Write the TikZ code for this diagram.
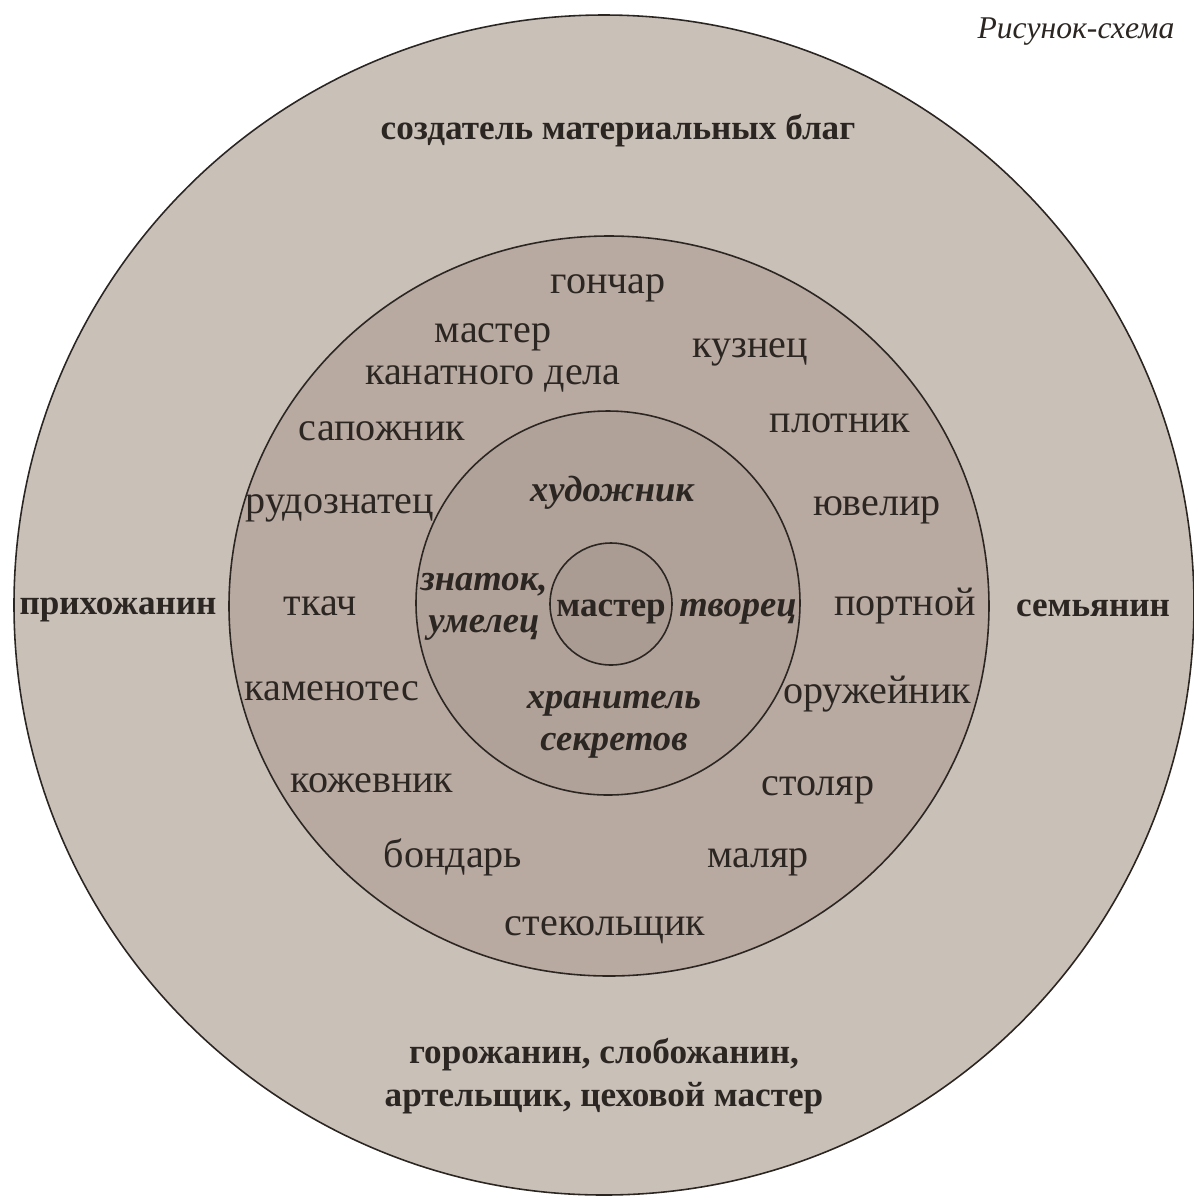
\documentclass[tikz,border=0pt]{standalone}
\usepackage{fontspec}
\setmainfont{Liberation Serif}
\definecolor{ringout}{HTML}{C9C0B8}
\definecolor{ringmid}{HTML}{B8A9A1}
\definecolor{ringin}{HTML}{B1A299}
\definecolor{ringcore}{HTML}{AA9B93}
\definecolor{inkgray}{HTML}{2B2622}
\begin{document}
\begin{tikzpicture}[x=0.01cm,y=-0.01cm,
    every node/.style={text=inkgray,inner sep=0pt},
    job/.style={font=\fontsize{11.4}{12}\selectfont,align=center,anchor=base},
    role/.style={font=\bfseries\fontsize{10}{12.2}\selectfont,align=center},
    trait/.style={font=\bfseries\itshape\fontsize{10.4}{12}\selectfont,align=center},
    ring/.style={draw=inkgray,line width=0.45pt}]
  \useasboundingbox (0,0) rectangle (1194,1196);
  \clip (0,0) rectangle (1194,1196);
  \filldraw[ring,fill=ringout] (604,605) circle (590);
  \filldraw[ring,fill=ringmid] (609,606) ellipse (380 and 370);
  \filldraw[ring,fill=ringin] (608,603) circle (192);
  \filldraw[ring,fill=ringcore] (611,604) circle (61);
  \draw
    (1076,38) node[anchor=base,font=\itshape\fontsize{9}{11}\selectfont] (caption){Рисунок-схема}
    (618,139) node[role,anchor=base] (sozdatel){создатель материальных благ}
    (118,614) node[role,anchor=base] (prihozhanin){прихожанин}
    (1093,616) node[role,anchor=base] (semyanin){семьянин}
    (604,1076) node[role] (gorozhanin){горожанин, слобожанин,\\артельщик, цеховой мастер}
    (608,293) node[job] (gonchar){гончар}
    (750,357) node[job] (kuznec){кузнец}
    (382,440) node[job] (sapozhnik){сапожник}
    (840,432) node[job] (plotnik){плотник}
    (340,513) node[job] (rudoznatec){рудознатец}
    (877,515) node[job] (yuvelir){ювелир}
    (320,615) node[job] (tkach){ткач}
    (905,615) node[job] (portnoj){портной}
    (332,700) node[job] (kamenotes){каменотес}
    (877,703) node[job] (oruzhejnik){оружейник}
    (372,792) node[job] (kozhevnik){кожевник}
    (818,795) node[job] (stolyar){столяр}
    (453,867) node[job] (bondar){бондарь}
    (758,867) node[job] (malyar){маляр}
    (605,935) node[job] (stekolshchik){стекольщик}
    (493,358) node[job,anchor=center] (kanatchik){мастер\\канатного дела}
    (612,501) node[trait,anchor=base] (hudozhnik){художник}
    (484,607) node[trait] (znatok){знаток,\\умелец}
    (738,616) node[trait,anchor=base] (tvorec){творец}
    (614,725) node[trait] (hranitel){хранитель\\секретов}
    (611,616) node[role,anchor=base] (master){мастер};
\end{tikzpicture}
\end{document}
